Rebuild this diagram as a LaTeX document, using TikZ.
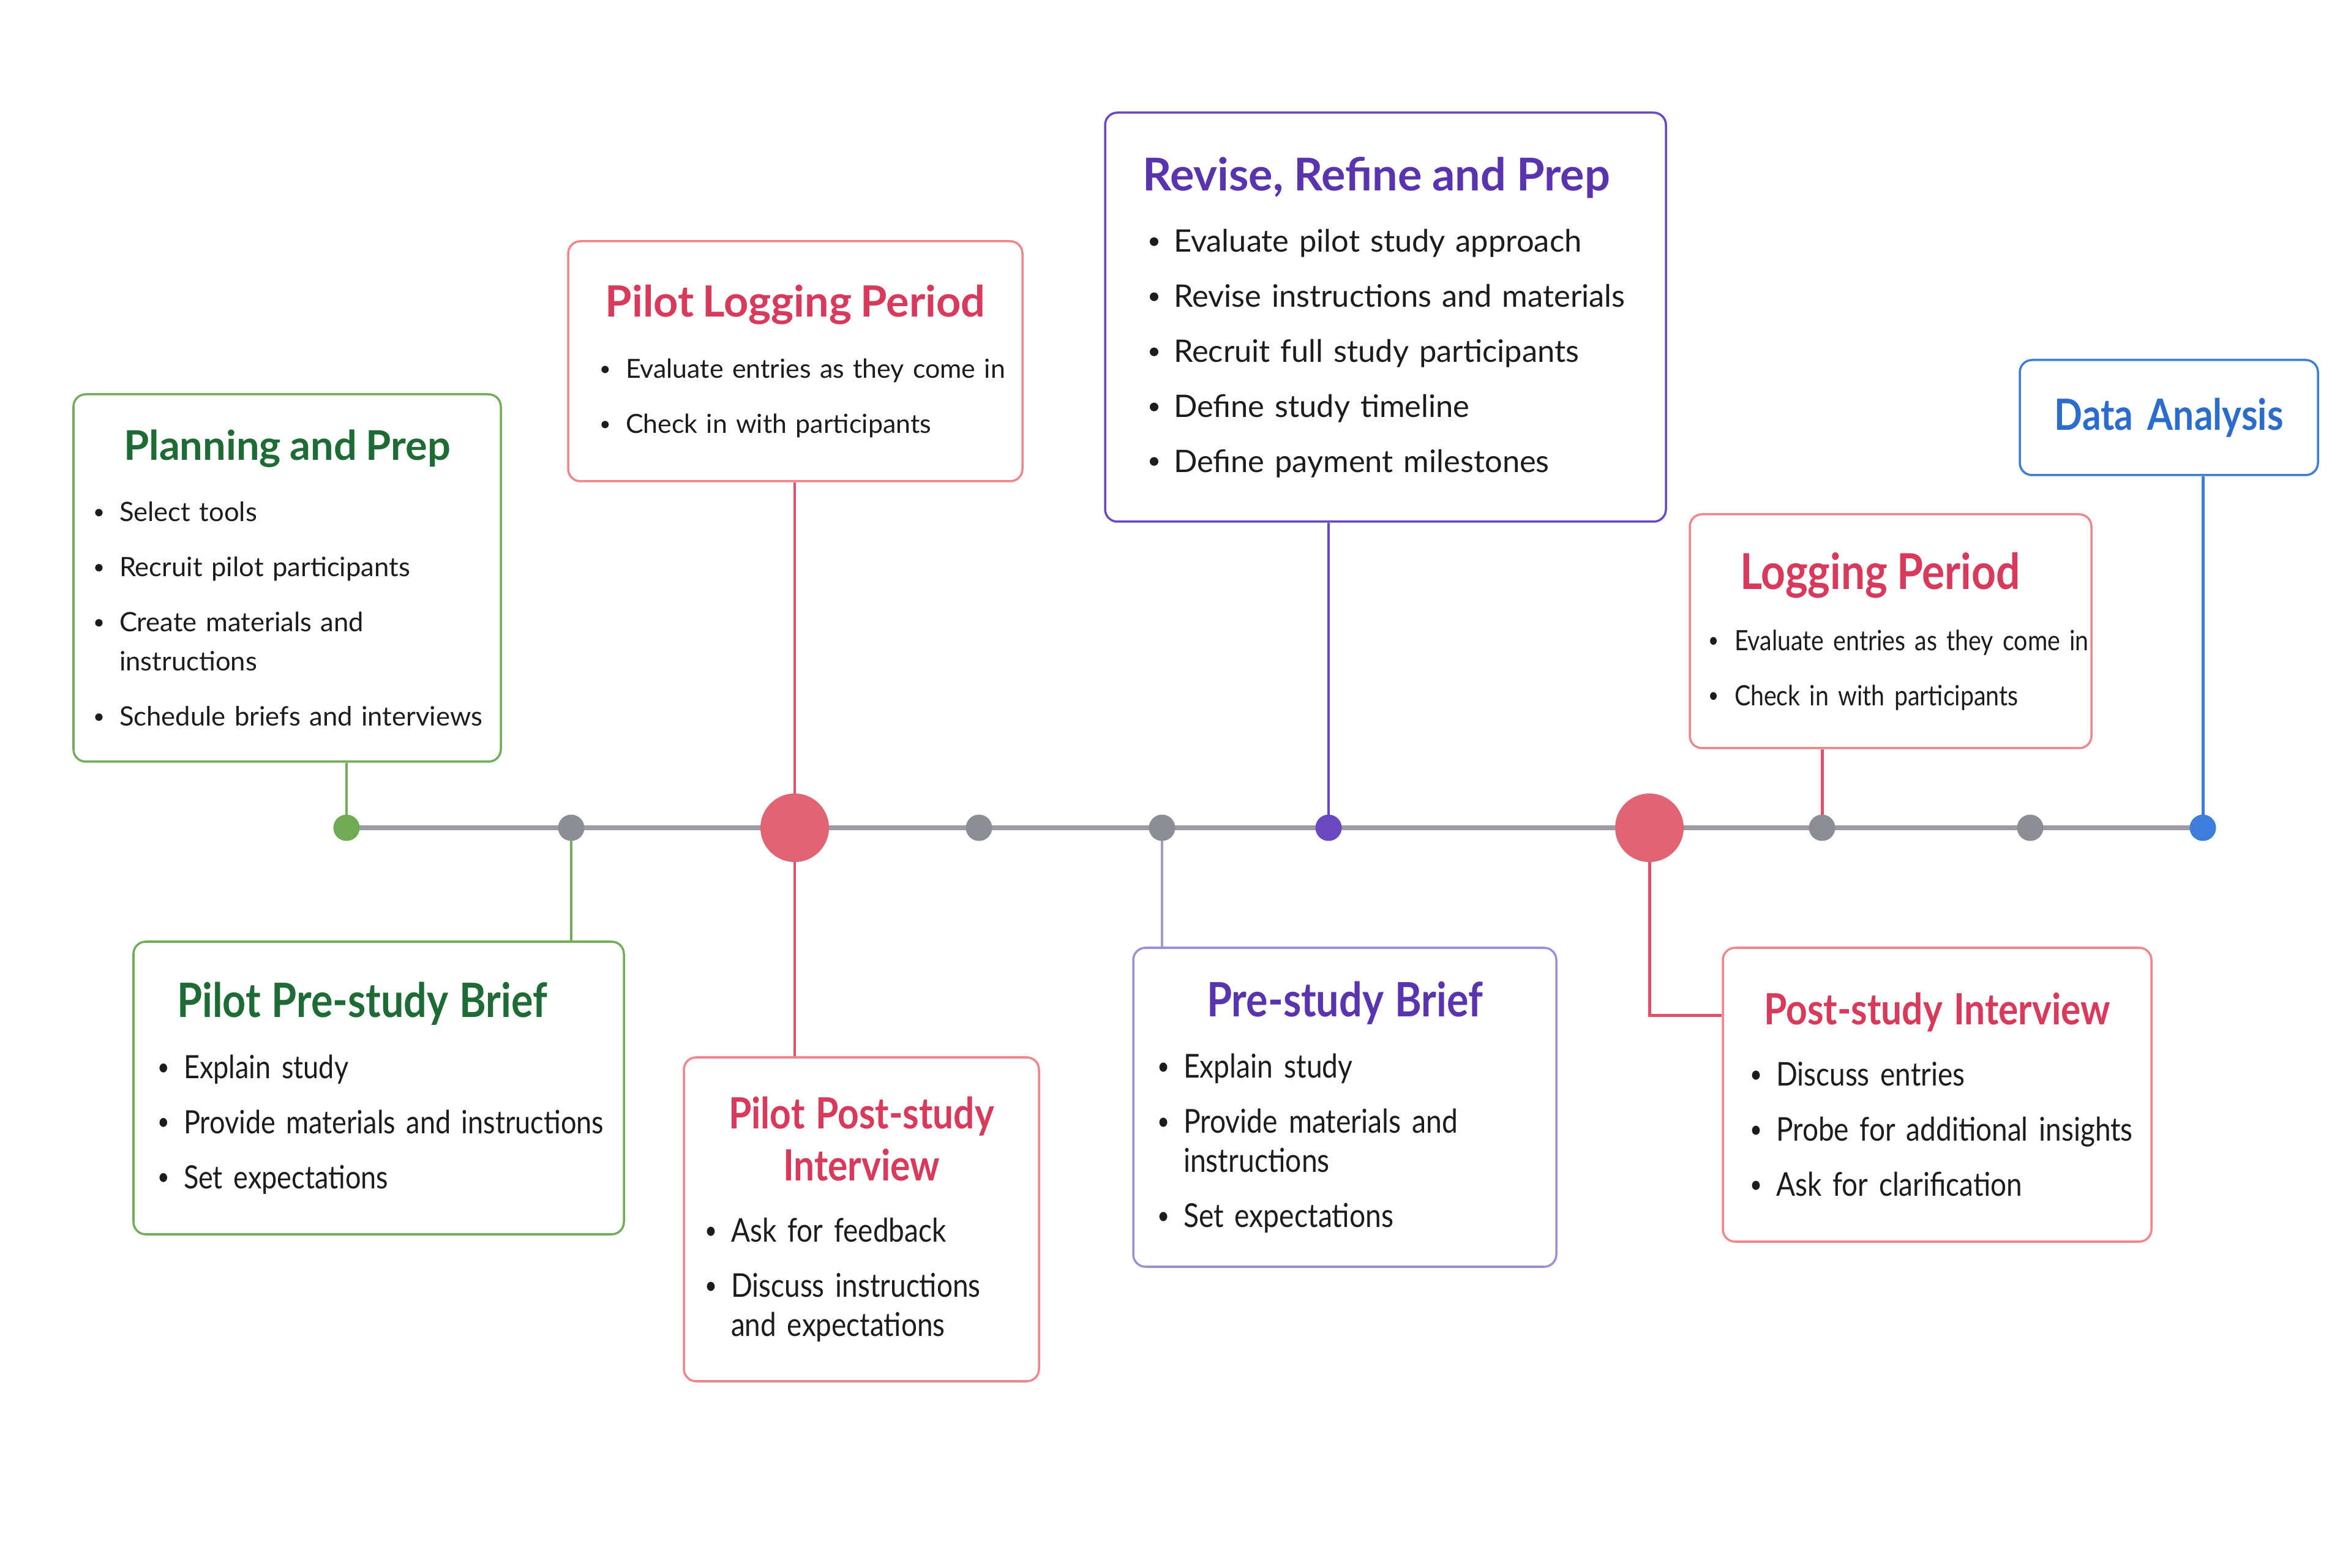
\documentclass[tikz,border=0pt]{standalone}
\usepackage{fontspec}
\setmainfont{Lato}
\newfontfamily\narrowfont[FakeStretch=0.86]{Lato}
\usetikzlibrary{backgrounds}
\pgfdeclarelayer{base}
\pgfsetlayers{base,background,main}

\definecolor{grnB}{HTML}{72AD5A}
\definecolor{grnT}{HTML}{1E6B35}
\definecolor{grnD}{HTML}{6FAB55}
\definecolor{redB}{HTML}{F0868C}
\definecolor{redT}{HTML}{D83A5C}
\definecolor{redD}{HTML}{E06474}
\definecolor{redL}{HTML}{E1526A}
\definecolor{purB}{HTML}{6A48C0}
\definecolor{purT}{HTML}{5A33AE}
\definecolor{purL}{HTML}{9E90D8}
\definecolor{purC}{HTML}{A29AC8}
\definecolor{bluB}{HTML}{3D7DDB}
\definecolor{bluT}{HTML}{2C6CCC}
\definecolor{gryL}{HTML}{9C9CA4}
\definecolor{gryD}{HTML}{8D8D96}
\definecolor{ink}{HTML}{1C1C1C}

\newlength\ind
\newlength\bw
\setlength\bw{4.3mm}
% title line, bullet line, continued bullet line
\newcommand{\hd}[3]{{\centering\fontsize{#1}{24.4}\selectfont\bfseries\color{#2}#3\par}\vspace{1mm}}
\newcommand{\itm}[1]{\par\noindent\hspace*{\ind}\makebox[\bw][l]{\raisebox{0.1em}{\scalebox{0.75}{\textbullet}}}\mbox{#1}\par}
\newcommand{\cnt}[1]{{\parskip=0pt\noindent\hspace*{\ind}\hspace*{\bw}\mbox{#1}\par}}

\begin{document}
\begin{tikzpicture}[
      box/.style={draw=#1,fill=white,rounded corners=2mm,line width=1pt,
                  inner xsep=3mm,inner ysep=0pt,align=left,text=ink},
      inset/.style={execute at begin node={\setlength{\ind}{#1}\setlength{\parskip}{2.6mm}}},
      body/.style={font=\fontsize{#1}{18.2}\selectfont},
      nbody/.style={font=\narrowfont\fontsize{#1}{18.2}\selectfont},
      dot/.style={circle,fill=#1,minimum size=4.3mm,inner sep=0pt},
      bigdot/.style={circle,fill=redD,minimum size=11.2mm,inner sep=0pt},
      tline/.style={draw=gryL,line width=2pt},
      conn/.style={draw=#1,line width=1.4pt}]
    \useasboundingbox (0,0) rectangle (38.4,25.6);
    \begin{pgfonlayer}{base}
      \fill[white] (0,0) rectangle (38.4,25.6);
    \end{pgfonlayer}
    % boxes above the line
    \node[box=grnB,body=12.4,inset=0.2mm,text width=63.8mm,minimum height=60mm] (plan) at (4.69,16.16)
      {\hd{19}{grnT}{Planning and Prep}\itm{Select tools}\itm{Recruit pilot participants}%
       \itm{Create materials and}\cnt{instructions}\itm{Schedule briefs and interviews}};
    \node[box=redB,body=12.2,inset=2.1mm,text width=68.2mm,minimum height=39.2mm] (pilotlog) at (12.99,19.70)
      {\hd{20}{redT}{Pilot Logging Period}\itm{Evaluate entries as they come in}\itm{Check in with participants}};
    \node[box=purB,body=14.4,inset=3.9mm,text width=85.6mm,minimum height=66.8mm] (revise) at (22.63,20.42)
      {\hd{21}{purT}{Revise, Refine and Prep\hspace*{3mm}}\itm{Evaluate pilot study approach}%
       \itm{Revise instructions and materials}\itm{Recruit full study participants}%
       \itm{Define study timeline}\itm{Define payment milestones}};
    \node[box=redB,nbody=13,inset=0mm,text width=59.6mm,minimum height=38.2mm] (logging) at (30.88,15.29)
      {\hd{23}{redT}{Logging Period\hspace*{3.4mm}}\itm{Evaluate entries as they come in}\itm{Check in with participants}};
    \node[box=bluB,align=center,text width=42.7mm,minimum height=18.8mm,
          font=\narrowfont\fontsize{20}{24}\selectfont\bfseries,text=bluT] (data) at (35.425,18.78) {Data Analysis};
    % boxes below the line
    \node[box=grnB,nbody=14.9,inset=0.9mm,text width=74.1mm,minimum height=47.8mm] (pilotpre) at (6.185,7.83)
      {\hd{22}{grnT}{Pilot Pre-study Brief\hspace*{5.4mm}}\itm{Explain study}\itm{Provide materials and instructions}%
       \itm{Set expectations}};
    \node[box=redB,nbody=15.2,inset=0.4mm,text width=52mm,minimum height=52.9mm] (pilotpost) at (14.07,5.685)
      {\hd{20}{redT}{Pilot Post-study\\Interview}\itm{Ask for feedback}\itm{Discuss instructions}%
       \cnt{and expectations}};
    \node[box=purL,nbody=15.3,inset=0.9mm,text width=63.1mm,minimum height=52.1mm] (prebrief) at (21.965,7.515)
      {\hd{22}{purT}{Pre-study Brief}\itm{Explain study}\itm{Provide materials and}\cnt{instructions}%
       \itm{Set expectations}};
    \node[box=redB,nbody=15.2,inset=1.4mm,text width=64mm,minimum height=48mm] (post) at (31.64,7.72)
      {\hd{20}{redT}{Post-study Interview}\itm{Discuss entries}\itm{Probe for additional insights}%
       \itm{Ask for clarification}};
    % milestones on the line
    \node[dot=grnD] (g1) at (5.66,12.08) {};
    \node[dot=gryD] (k1) at (9.33,12.08) {};
    \node[bigdot] (r1) at (12.98,12.08) {};
    \node[dot=gryD] (k2) at (15.99,12.08) {};
    \node[dot=gryD] (k3) at (18.98,12.08) {};
    \node[dot=purB] (p1) at (21.70,12.08) {};
    \node[bigdot] (r2) at (26.94,12.08) {};
    \node[dot=gryD] (k4) at (29.76,12.08) {};
    \node[dot=gryD] (k5) at (33.16,12.08) {};
    \node[dot=bluB] (b1) at (35.98,12.08) {};
    \begin{scope}[on background layer]
      \draw[tline] (g1.center) -- (b1.center);
      \draw[conn=grnB] (g1.center) -- (g1 |- plan.south);
      \draw[conn=grnB] (k1.center) -- (k1 |- pilotpre.north);
      \draw[conn=redL] (r1.center) -- (r1 |- pilotlog.south);
      \draw[conn=redL] (r1.center) -- (r1 |- pilotpost.north);
      \draw[conn=purC] (k3.center) -- (k3 |- prebrief.north);
      \draw[conn=purB] (p1.center) -- (p1 |- revise.south);
      \draw[conn=redL] (r2.center) |- ([yshift=-11.2mm]post.north west);
      \draw[conn=redL] (k4.center) -- (k4 |- logging.south);
      \draw[conn=bluB] (b1.center) -- (b1 |- data.south);
    \end{scope}
  \end{tikzpicture}
\end{document}
